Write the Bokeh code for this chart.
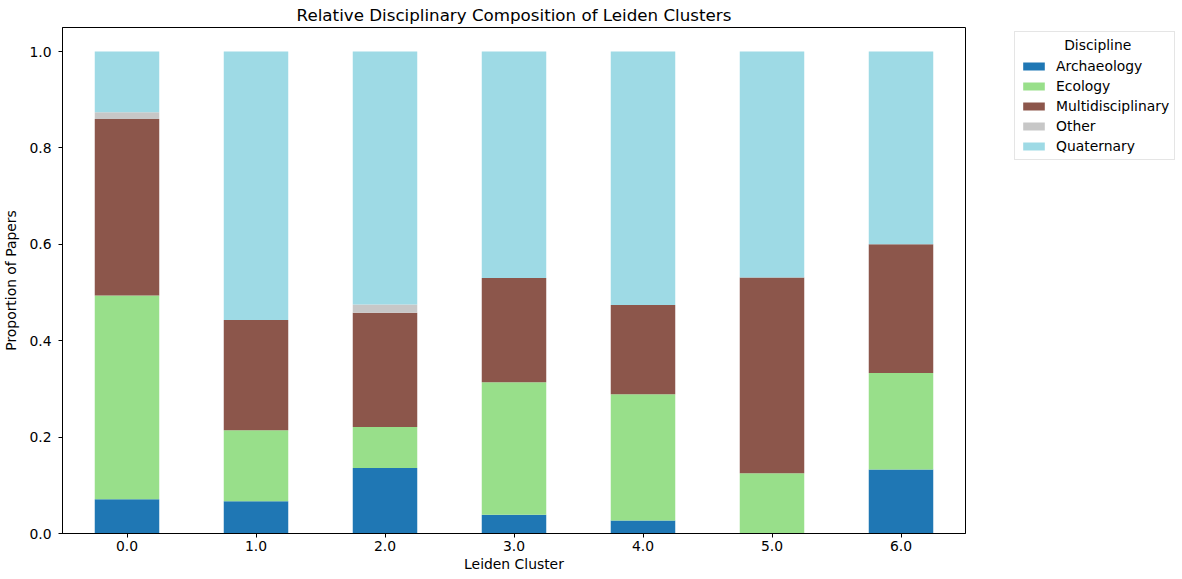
from bokeh.plotting import figure
from bokeh.models import ColumnDataSource, Range1d, FixedTicker, Legend, LegendItem, NumeralTickFormatter
from bokeh.embed import file_html
from bokeh.resources import INLINE

clusters = [0, 1, 2, 3, 4, 5, 6]
cluster_labels = ["0.0", "1.0", "2.0", "3.0", "4.0", "5.0", "6.0"]
disciplines = ["Archaeology", "Ecology", "Multidisciplinary", "Other", "Quaternary"]
archaeology = [0.071, 0.067, 0.136, 0.039, 0.027, 0.000, 0.133]
ecology = [0.423, 0.147, 0.085, 0.275, 0.262, 0.125, 0.200]
multidisciplinary = [0.366, 0.229, 0.237, 0.216, 0.185, 0.406, 0.267]
other = [0.014, 0.000, 0.017, 0.000, 0.000, 0.000, 0.000]
quaternary = [0.126, 0.557, 0.525, 0.470, 0.526, 0.469, 0.400]
colors = ["#1f77b4", "#98df8a", "#8c564b", "#c7c7c7", "#9edae5"]

source = ColumnDataSource(dict(
    x=clusters,
    Archaeology=archaeology,
    Ecology=ecology,
    Multidisciplinary=multidisciplinary,
    Other=other,
    Quaternary=quaternary,
))

FONT = "DejaVu Sans"
FW, FH = 903, 506

p = figure(frame_width=FW, frame_height=FH, output_backend="svg", toolbar_location=None,
           x_range=Range1d(-0.5, 6.5), y_range=Range1d(0, 1.05),
           title="Relative Disciplinary Composition of Leiden Clusters",
           min_border_left=54, min_border_right=0, min_border_top=20, min_border_bottom=39)

renderers = p.vbar_stack(disciplines, x="x", width=0.5, source=source, color=colors,
                         line_width=0, line_color=None)

p.title.align = "center"
p.title.text_font = FONT
p.title.text_font_size = "16.7px"
p.title.text_font_style = "normal"
p.title.text_color = "black"
p.title.standoff = 5
p.title.offset = 0

p.xgrid.visible = False
p.ygrid.visible = False
p.outline_line_color = "black"
p.outline_line_width = 1
p.outline_line_alpha = 1

for ax in (p.xaxis[0], p.yaxis[0]):
    ax.major_label_text_font = FONT
    ax.major_label_text_font_size = "13.9px"
    ax.axis_label_text_font = FONT
    ax.axis_label_text_font_size = "13.9px"
    ax.axis_label_text_font_style = "normal"
    ax.axis_label_text_color = "black"
    ax.major_tick_in = 0
    ax.major_tick_out = 4
    ax.minor_tick_in = 0
    ax.minor_tick_out = 0
    ax.axis_line_color = "black"
    ax.major_tick_line_color = "black"
    ax.major_label_text_color = "black"

p.xaxis[0].ticker = FixedTicker(ticks=clusters)
p.xaxis[0].major_label_overrides = {c: l for c, l in zip(clusters, cluster_labels)}
p.xaxis[0].axis_label = "Leiden Cluster"
p.xaxis[0].major_label_standoff = 3
p.xaxis[0].axis_label_standoff = 2

p.yaxis[0].ticker = FixedTicker(ticks=[0.0, 0.2, 0.4, 0.6, 0.8, 1.0])
p.yaxis[0].formatter = NumeralTickFormatter(format="0.0")
p.yaxis[0].axis_label = "Proportion of Papers"
p.yaxis[0].major_label_standoff = 7
p.yaxis[0].axis_label_standoff = 7

legend = Legend(items=[LegendItem(label=d, renderers=[r]) for d, r in zip(disciplines, renderers)],
                title="\u00a0" * 10 + "Discipline", location=(49, FH - 133))
legend.title_text_font = FONT
legend.title_text_font_size = "13.9px"
legend.title_text_font_style = "normal"
legend.title_text_color = "black"
legend.label_text_font = FONT
legend.label_text_font_size = "13.9px"
legend.label_text_color = "black"
legend.glyph_width = 27
legend.glyph_height = 10
legend.label_height = 14
legend.label_standoff = 9
legend.spacing = 4
legend.padding = 5
legend.margin = 0
legend.border_line_color = "#cccccc"
legend.border_line_width = 1
legend.background_fill_alpha = 1
p.add_layout(legend, "right")

open("out.html", "w").write(file_html(p, INLINE))
